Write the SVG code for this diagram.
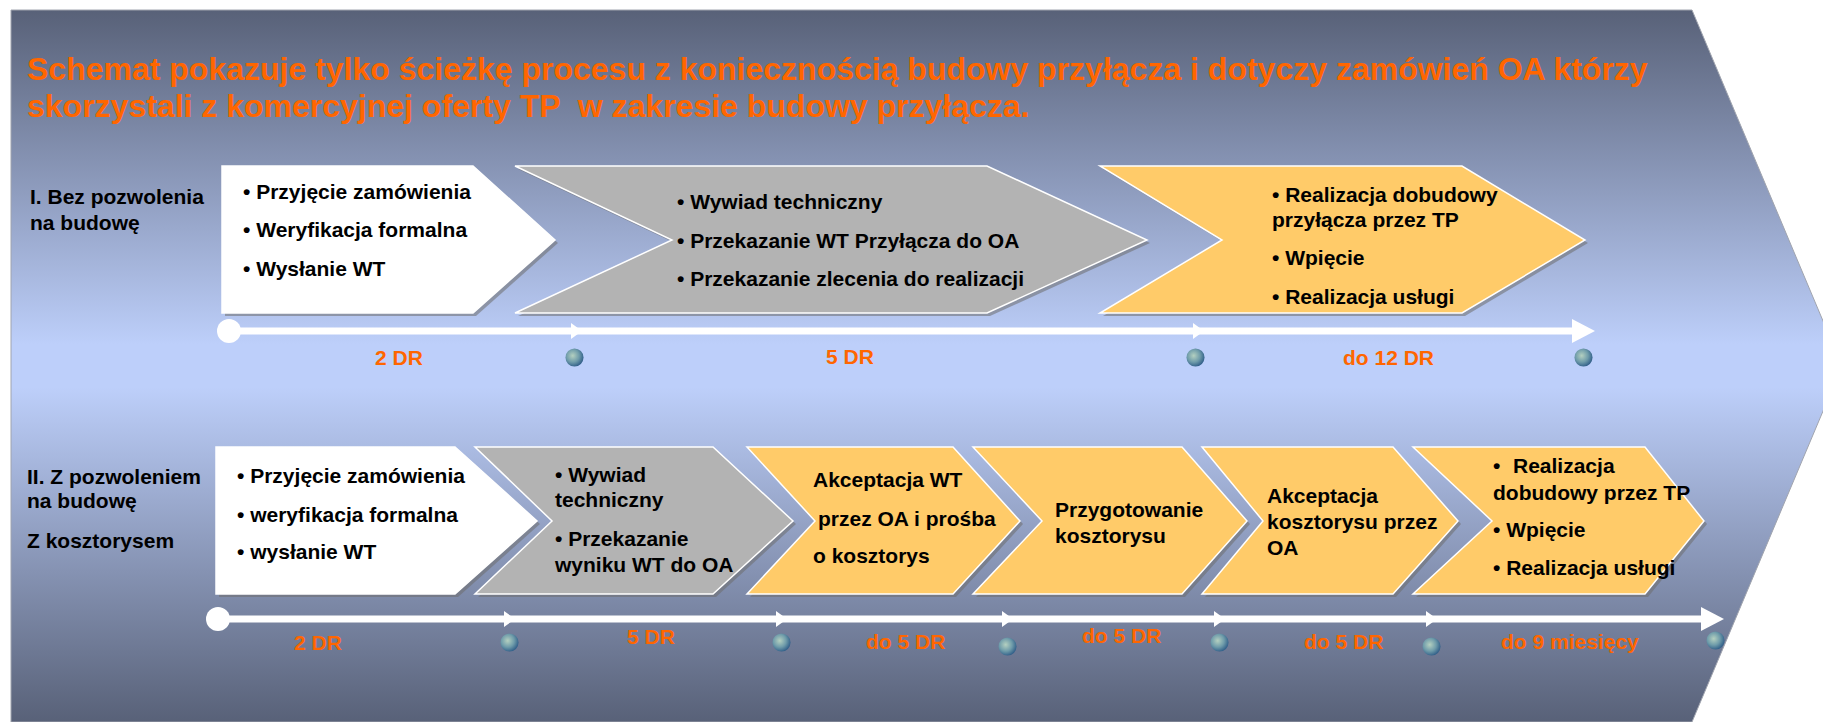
<svg xmlns="http://www.w3.org/2000/svg" xmlns:xlink="http://www.w3.org/1999/xlink" width="1823" height="722" viewBox="0 0 1823 722">
<style>
text{font-family:"Liberation Sans",Arial,sans-serif;font-weight:bold;}
.title{font-size:32px;fill:#FF6600;}
.lbl{font-size:21px;fill:#000;}
.dur{font-size:21px;fill:#FF6600;}
.shadow{fill:#6e6e6e;opacity:0.55;}
.white{fill:#ffffff;stroke:#ffffff;stroke-width:1.5;}
.gray{fill:#b3b3b3;stroke:#ffffff;stroke-width:1.5;}
.yellow{fill:#FFCB69;stroke:#ffffff;stroke-width:1.5;}
.line{fill:#ffffff;stroke:none;}
</style>
<defs>
<linearGradient id="bg" x1="0" y1="10" x2="0" y2="722" gradientUnits="userSpaceOnUse">
<stop offset="0" stop-color="#586178"/>
<stop offset="0.47" stop-color="#bdcffa"/>
<stop offset="0.53" stop-color="#bdcffa"/>
<stop offset="1" stop-color="#586178"/>
</linearGradient>
<radialGradient id="gl" cx="0.4" cy="0.4" r="0.65">
<stop offset="0" stop-color="#b4d0c0"/>
<stop offset="0.55" stop-color="#6f9caa"/>
<stop offset="1" stop-color="#2c5a86"/>
</radialGradient>
<symbol id="globe" viewBox="-10 -10 20 20" overflow="visible">
<circle cx="0" cy="0" r="9.5" fill="url(#gl)"/>
</symbol>
</defs>
<rect width="1823" height="722" fill="#ffffff"/>
<g id="background">
<polygon points="11,10 1692,10 1842,366 1692,722 11,722" fill="url(#bg)" stroke="#a0a4ae" stroke-width="1"/>
</g>
<g id="title">
<text class="title" x="27" y="80">Schemat pokazuje tylko ścieżkę procesu z koniecznością budowy przyłącza i dotyczy zamówień OA którzy</text>
<text class="title" x="27" y="117" xml:space="preserve">skorzystali z komercyjnej oferty TP  w zakresie budowy przyłącza.</text>
</g>
<g id="row1-label">
<text class="lbl" x="30" y="204">I. Bez pozwolenia</text>
<text class="lbl" x="30" y="230">na budowę</text>
</g>
<g id="row2-label">
<text class="lbl" x="27" y="484">II. Z pozwoleniem</text>
<text class="lbl" x="27" y="508">na budowę</text>
<text class="lbl" x="27" y="548">Z kosztorysem</text>
</g>
<g id="connectors">
<g id="timeline1">
<circle cx="229" cy="331" r="12" class="line"/>
<rect x="229" y="327.5" width="1346" height="7" class="line"/>
<polygon points="571,323 582,331 571,339" class="line"/>
<polygon points="1193,323 1204,331 1193,339" class="line"/>
<polygon points="1572,319 1595,331 1572,343" class="line"/>
</g>
<g id="timeline2">
<circle cx="218" cy="619" r="12" class="line"/>
<rect x="218" y="615.5" width="1486" height="7" class="line"/>
<polygon points="504,611 515,619 504,627" class="line"/>
<polygon points="776,611 787,619 776,627" class="line"/>
<polygon points="1002,611 1013,619 1002,627" class="line"/>
<polygon points="1214,611 1225,619 1214,627" class="line"/>
<polygon points="1426,611 1437,619 1426,627" class="line"/>
<polygon points="1701,607 1724,619 1701,631" class="line"/>
</g>
</g>
<g id="milestones">
<use xlink:href="#globe" x="565" y="348" width="19" height="19"/>
<use xlink:href="#globe" x="1186" y="348" width="19" height="19"/>
<use xlink:href="#globe" x="1574" y="348" width="19" height="19"/>
<use xlink:href="#globe" x="500" y="633" width="19" height="19"/>
<use xlink:href="#globe" x="772" y="633" width="19" height="19"/>
<use xlink:href="#globe" x="998" y="637" width="19" height="19"/>
<use xlink:href="#globe" x="1210" y="633" width="19" height="19"/>
<use xlink:href="#globe" x="1422" y="637" width="19" height="19"/>
<use xlink:href="#globe" x="1706" y="631" width="19" height="19"/>
</g>
<g id="node-r1-1">
<polygon class="shadow" transform="translate(3,3)" points="222,166 473,166 555,240 473,313 222,313"/>
<polygon class="white" points="222,166 473,166 555,240 473,313 222,313"/>
<text class="lbl" x="243" y="199">• Przyjęcie zamówienia</text>
<text class="lbl" x="243" y="237">• Weryfikacja formalna</text>
<text class="lbl" x="243" y="276">• Wysłanie WT</text>
</g>
<g id="node-r1-2">
<polygon class="shadow" transform="translate(3,3)" points="515,166 987,166 1147,240 987,313 515,313 672,240"/>
<polygon class="gray" points="515,166 987,166 1147,240 987,313 515,313 672,240"/>
<text class="lbl" x="677" y="209">• Wywiad techniczny</text>
<text class="lbl" x="677" y="248">• Przekazanie WT Przyłącza do OA</text>
<text class="lbl" x="677" y="286">• Przekazanie zlecenia do realizacji</text>
</g>
<g id="node-r1-3">
<polygon class="shadow" transform="translate(3,3)" points="1100,166 1462,166 1585,240 1462,313 1100,313 1222,240"/>
<polygon class="yellow" points="1100,166 1462,166 1585,240 1462,313 1100,313 1222,240"/>
<text class="lbl" x="1272" y="202">• Realizacja dobudowy</text>
<text class="lbl" x="1272" y="227">przyłącza przez TP</text>
<text class="lbl" x="1272" y="265">• Wpięcie</text>
<text class="lbl" x="1272" y="304">• Realizacja usługi</text>
</g>
<g id="node-r2-1">
<polygon class="shadow" transform="translate(3,3)" points="216,447 455,447 537,521 455,594 216,594"/>
<polygon class="white" points="216,447 455,447 537,521 455,594 216,594"/>
<text class="lbl" x="237" y="483">• Przyjęcie zamówienia</text>
<text class="lbl" x="237" y="522">• weryfikacja formalna</text>
<text class="lbl" x="237" y="559">• wysłanie WT</text>
</g>
<g id="node-r2-2">
<polygon class="shadow" transform="translate(3,3)" points="475,447 713,447 793,521 713,594 475,594 552,521"/>
<polygon class="gray" points="475,447 713,447 793,521 713,594 475,594 552,521"/>
<text class="lbl" x="555" y="482">• Wywiad</text>
<text class="lbl" x="555" y="507">techniczny</text>
<text class="lbl" x="555" y="546">• Przekazanie</text>
<text class="lbl" x="555" y="572">wyniku WT do OA</text>
</g>
<g id="node-r2-3">
<polygon class="shadow" transform="translate(3,3)" points="747,447 953,447 1020,521 953,594 747,594 815,521"/>
<polygon class="yellow" points="747,447 953,447 1020,521 953,594 747,594 815,521"/>
<text class="lbl" x="813" y="487">Akceptacja WT</text>
<text class="lbl" x="818" y="526">przez OA i prośba</text>
<text class="lbl" x="813" y="563">o kosztorys</text>
</g>
<g id="node-r2-4">
<polygon class="shadow" transform="translate(3,3)" points="973,447 1182,447 1247,521 1182,594 973,594 1042,521"/>
<polygon class="yellow" points="973,447 1182,447 1247,521 1182,594 973,594 1042,521"/>
<text class="lbl" x="1055" y="517">Przygotowanie</text>
<text class="lbl" x="1055" y="543">kosztorysu</text>
</g>
<g id="node-r2-5">
<polygon class="shadow" transform="translate(3,3)" points="1202,447 1393,447 1458,521 1393,594 1202,594 1263,521"/>
<polygon class="yellow" points="1202,447 1393,447 1458,521 1393,594 1202,594 1263,521"/>
<text class="lbl" x="1267" y="503">Akceptacja</text>
<text class="lbl" x="1267" y="529">kosztorysu przez</text>
<text class="lbl" x="1267" y="555">OA</text>
</g>
<g id="node-r2-6">
<polygon class="shadow" transform="translate(3,3)" points="1413,447 1645,447 1704,521 1645,594 1413,594 1492,521"/>
<polygon class="yellow" points="1413,447 1645,447 1704,521 1645,594 1413,594 1492,521"/>
<text class="lbl" x="1493" y="473">•</text>
<text class="lbl" x="1513" y="473">Realizacja</text>
<text class="lbl" x="1493" y="500">dobudowy przez TP</text>
<text class="lbl" x="1493" y="537">• Wpięcie</text>
<text class="lbl" x="1493" y="575">• Realizacja usługi</text>
</g>
<g id="durations">
<text class="dur" x="375" y="365">2 DR</text>
<text class="dur" x="826" y="364">5 DR</text>
<text class="dur" x="1343" y="365">do 12 DR</text>
<text class="dur" x="294" y="650">2 DR</text>
<text class="dur" x="627" y="644">5 DR</text>
<text class="dur" x="866" y="649">do 5 DR</text>
<text class="dur" x="1082" y="643">do 5 DR</text>
<text class="dur" x="1304" y="649">do 5 DR</text>
<text class="dur" x="1501" y="649">do 9 miesięcy</text>
</g>
</svg>
